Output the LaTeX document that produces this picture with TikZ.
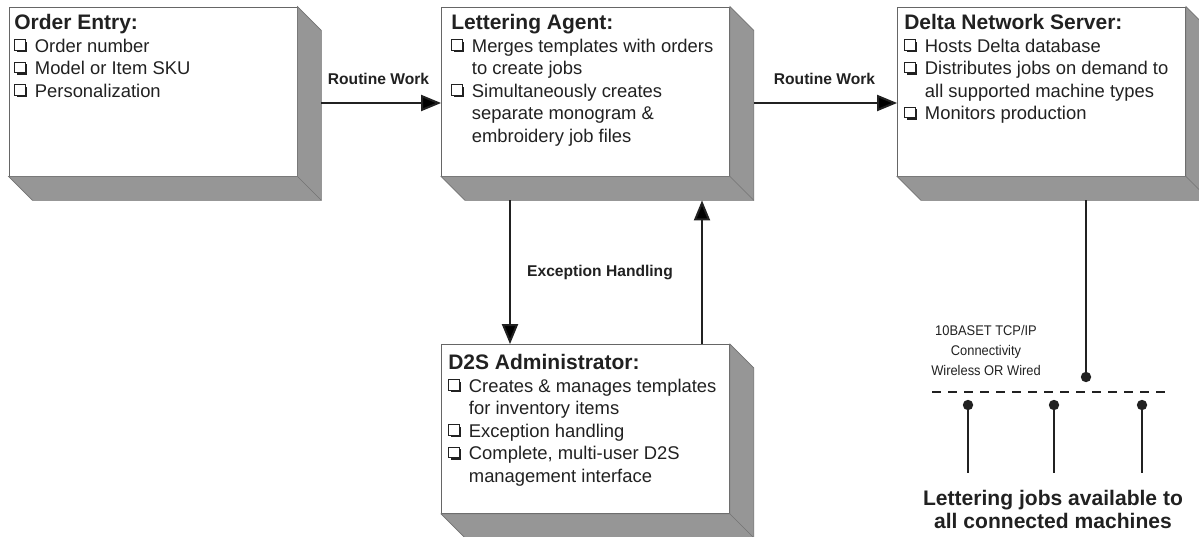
\documentclass[tikz,border=0pt]{standalone}
\usepackage{fontspec}
\setmainfont{Liberation Sans}
\newfontfamily\narrowsf[FakeStretch=0.92]{Liberation Sans}
\usetikzlibrary{arrows.meta}
\definecolor{ink}{gray}{0.13}
\definecolor{shade}{gray}{0.59}
\newcommand\cbox{\tikz[baseline=0pt,x=1pt,y=1pt]{\fill[ink] (1.4,0)
    rectangle (9.2,7.8); \filldraw[fill=white,draw=ink,line width=.6pt]
    (0,1.4) rectangle (7.8,9.2);}\hspace{6pt}}
\newcommand\ind{\hphantom{\cbox}}
\newcommand\ttl{\fontsize{15.75}{16.9}\selectfont\bfseries}

\begin{document}
\begin{tikzpicture}[x=.75pt,y=-.75pt,
    face/.style={draw=black!60,fill=white,line width=.6pt,
      minimum width=216pt,minimum height=126.75pt,inner sep=0},
    side/.style={fill=shade,draw=black!55,line width=.5pt},
    txt/.style={anchor=north west,inner sep=0,align=left,text=ink,
      font=\fontsize{13.8}{16.9}\selectfont},
    lbl/.style={anchor=base,inner sep=0,text=ink,
      font=\fontsize{11.7}{14}\selectfont\bfseries},
    net/.style={align=center,inner sep=0,text=ink,
      font=\narrowsf\fontsize{10.5}{15}\selectfont},
    arr/.style={draw=ink,line width=1.5pt,-{Triangle[length=15pt,width=12pt]}},
    wire/.style={draw=ink,line width=1.5pt},
    dot/.style={circle,fill=ink,inner sep=0,minimum size=7.8pt}]
    \useasboundingbox (0,0) rectangle (1199,536); \clip (0,0) rectangle
    (1199,536);
    \node[face] (oe) at (153,91.5) {}; \node[face] (la) at (585.5,91.5) {};
    \node[face] (dns) at (1041.5,91.5) {}; \node[face] (d2s) at (585.5,429) {};
    \foreach \b in {oe,la,dns,d2s}{
      \filldraw[side] (\b.south west) -- ([shift={(24,24)}]\b.south west)
      -- ([shift={(24,24)}]\b.south east) -- ([shift={(24,24)}]\b.north east)
      -- (\b.north east) -- (\b.south east) -- cycle;
      \draw[side,fill=none] (\b.south east) -- ([shift={(24,24)}]\b.south east);}
    \node[txt] (oe-t) at (14,14) {{\ttl Order Entry:}\\\cbox Order number\\
      \cbox Model or Item SKU\\\cbox Personalization};
    \node[txt] (la-t) at (451,14) {{\ttl Lettering Agent:}\\
      \cbox Merges templates with orders\\\ind to create jobs\\
      \cbox Simultaneously creates\\\ind separate monogram \&\\
      \ind embroidery job files};
    \node[txt] (dns-t) at (904,14) {{\ttl Delta Network Server:}\\
      \cbox Hosts Delta database\\\cbox Distributes jobs on demand to\\
      \ind all supported machine types\\\cbox Monitors production};
    \node[txt] (d2s-t) at (448,354) {{\ttl D2S Administrator:}\\
      \cbox Creates \& manages templates\\\ind for inventory items\\
      \cbox Exception handling\\\cbox Complete, multi-user D2S\\
      \ind management interface};
    \node[lbl] (rw1) at (378.5,84) {Routine Work};
    \node[lbl] (rw2) at (824.5,84) {Routine Work};
    \node[lbl] (exc) at (600,276.5) {Exception Handling};
    \draw[arr] ([shift={(24,11.5)}]oe.east) -- ([shift={(0,11.5)}]la.west);
    \draw[arr] ([shift={(24,11.5)}]la.east) -- ([shift={(0,11.5)}]dns.west);
    \draw[arr] ([shift={(-75.5,24)}]la.south) -- ([shift={(-75.5,0)}]d2s.north);
    \draw[arr] ([shift={(116.5,0)}]d2s.north) -- ([shift={(116.5,24)}]la.south);
    \node[dot] (hub) at (1086,377) {};
    \draw[wire] ([shift={(44.5,24)}]dns.south) -- (hub);
    \coordinate (bus-l) at (932,392); \coordinate (bus-r) at (1165,392);
    \draw[wire,line width=1.1pt,dash pattern=on 6.5pt off 5.5pt] (bus-l)
    -- (bus-r);
    \foreach \i/\x in {1/968,2/1054,3/1142}{\node[dot] (m\i) at (\x,405) {};
      \coordinate (m\i-end) at (\x,473); \draw[wire] (m\i) -- (m\i-end);}
    \node[net] (conn) at (986,350) {10BASET TCP/IP\\Connectivity\\Wireless
      OR Wired};
    \node[anchor=north,align=center,inner sep=0,text=ink,
      font=\fontsize{15.8}{17.3}\selectfont\bfseries] (jobs) at (1053,490)
      {Lettering jobs available to\\all connected machines};
\end{tikzpicture}
\end{document}
